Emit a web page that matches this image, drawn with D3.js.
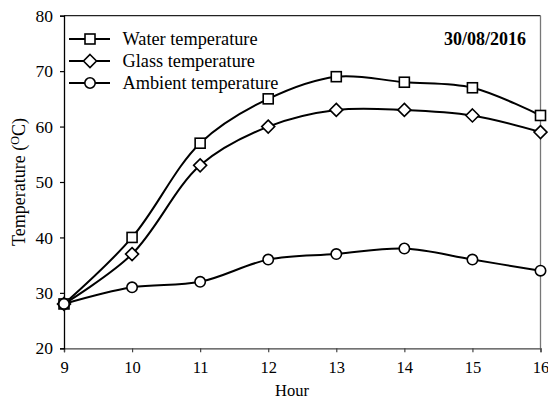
<!DOCTYPE html>
<html>
<head>
<meta charset="utf-8">
<script src="https://cdn.jsdelivr.net/npm/d3@7"></script>
<style>
  html, body { margin: 0; padding: 0; background: #fff; }
  svg { display: block; font-family: "Liberation Serif", "Times New Roman", serif; }
  svg text { font-family: "Liberation Serif", "Times New Roman", serif; }
</style>
</head>
<body>
<svg id="chart" width="548" height="401"></svg>
<script>
// Hourly readings on 30/08/2016
const hours = [9, 10, 11, 12, 13, 14, 15, 16];
const waterTemp = [28, 40, 57, 65, 69, 68, 67, 62];
const glassTemp = [28, 37, 53, 60, 63, 63, 62, 59];
const ambientTemp = [28, 31, 32, 36, 37, 38, 36, 34];
const yTicks = [20, 30, 40, 50, 60, 70, 80];
const seriesNames = ["Water temperature", "Glass temperature", "Ambient temperature"];
const seriesMarkers = ["square", "diamond", "circle"];
const dateLabel = "30/08/2016";

const serif = "'Liberation Serif', 'Times New Roman', serif";
const svg = d3.select("#chart");
const plotLeft = 64, plotRight = 540.5, plotTop = 15.7, plotBottom = 348.3;

const x = d3.scaleLinear().domain([9, 16]).range([plotLeft, plotRight]);
const y = d3.scaleLinear().domain([20, 80]).range([plotBottom, plotTop]);

// frame: top and right edges
svg.append("line").attr("x1", plotLeft).attr("x2", plotRight).attr("y1", plotTop).attr("y2", plotTop)
  .attr("stroke", "#222").attr("stroke-width", 1.2);
svg.append("line").attr("x1", plotRight).attr("x2", plotRight).attr("y1", plotTop).attr("y2", plotBottom)
  .attr("stroke", "#777").attr("stroke-width", 1.3);

// axes
const xAxis = svg.append("g").attr("transform", `translate(0,${plotBottom})`)
  .call(d3.axisBottom(x).tickValues(hours).tickSize(4).tickPadding(9).tickFormat(d3.format("d")))
  .attr("font-family", serif).attr("font-size", 16.5);
xAxis.select(".domain").attr("stroke", "#444").attr("stroke-width", 1.3);
xAxis.selectAll(".tick line").attr("stroke", "#444").attr("stroke-width", 1.2);
xAxis.selectAll("text").attr("fill", "#000");

const yAxis = svg.append("g").attr("transform", `translate(${plotLeft},0)`)
  .call(d3.axisLeft(y).tickValues(yTicks).tickSize(4).tickPadding(7).tickFormat(d3.format("d")))
  .attr("font-family", serif).attr("font-size", 17.5);
yAxis.select(".domain").attr("stroke", "#000").attr("stroke-width", 1.3);
yAxis.selectAll(".tick line").attr("stroke", "#000").attr("stroke-width", 1.2);
yAxis.selectAll("text").attr("fill", "#000");

// axis titles
svg.append("text").attr("x", 292).attr("y", 396).attr("text-anchor", "middle")
  .attr("font-size", 16.5).text("Hour");

const yTitle = svg.append("text")
  .attr("transform", `translate(25,182) rotate(-90)`)
  .attr("text-anchor", "middle").attr("font-size", 18);
yTitle.append("tspan").text("Temperature (");
yTitle.append("tspan").attr("font-size", 12).attr("dy", -6).text("O");
yTitle.append("tspan").attr("dy", 6).text("C)");

// date
svg.append("text").attr("x", 526).attr("y", 45).attr("text-anchor", "end")
  .attr("font-size", 18).attr("font-weight", "bold").text(dateLabel);

// markers
function drawMarker(g, kind, cx, cy) {
  if (kind === "square") {
    g.append("rect").attr("x", cx - 5).attr("y", cy - 5).attr("width", 10).attr("height", 10)
      .attr("fill", "#fff").attr("stroke", "#000").attr("stroke-width", 1.6);
  } else if (kind === "diamond") {
    g.append("path").attr("d", `M${cx},${cy - 6.5}L${cx + 6.5},${cy}L${cx},${cy + 6.5}L${cx - 6.5},${cy}Z`)
      .attr("fill", "#fff").attr("stroke", "#000").attr("stroke-width", 1.6);
  } else {
    g.append("circle").attr("cx", cx).attr("cy", cy).attr("r", 5.2)
      .attr("fill", "#fff").attr("stroke", "#000").attr("stroke-width", 1.6);
  }
}

const line = d3.line().x(d => x(d[0])).y(d => y(d[1])).curve(d3.curveCatmullRom.alpha(0.5));
const allSeries = [waterTemp, glassTemp, ambientTemp];

// lines first, then markers on top
allSeries.forEach(vals => {
  svg.append("path").datum(hours.map((h, i) => [h, vals[i]]))
    .attr("d", line).attr("fill", "none").attr("stroke", "#000").attr("stroke-width", 2);
});
// ambient markers drawn last so the shared starting point shows a circle
[0, 1, 2].forEach(s => {
  const g = svg.append("g");
  hours.forEach((h, i) => drawMarker(g, seriesMarkers[s], x(h), y(allSeries[s][i])));
});

// legend
const legend = svg.append("g");
seriesNames.forEach((name, i) => {
  const ly = 39 + i * 22;
  legend.append("line").attr("x1", 69).attr("x2", 110).attr("y1", ly).attr("y2", ly)
    .attr("stroke", "#000").attr("stroke-width", 2);
  drawMarker(legend, seriesMarkers[i], 90, ly);
  legend.append("text").attr("x", 122.5).attr("y", ly + 6).attr("font-size", 18.3).text(name);
});
</script>
</body>
</html>
